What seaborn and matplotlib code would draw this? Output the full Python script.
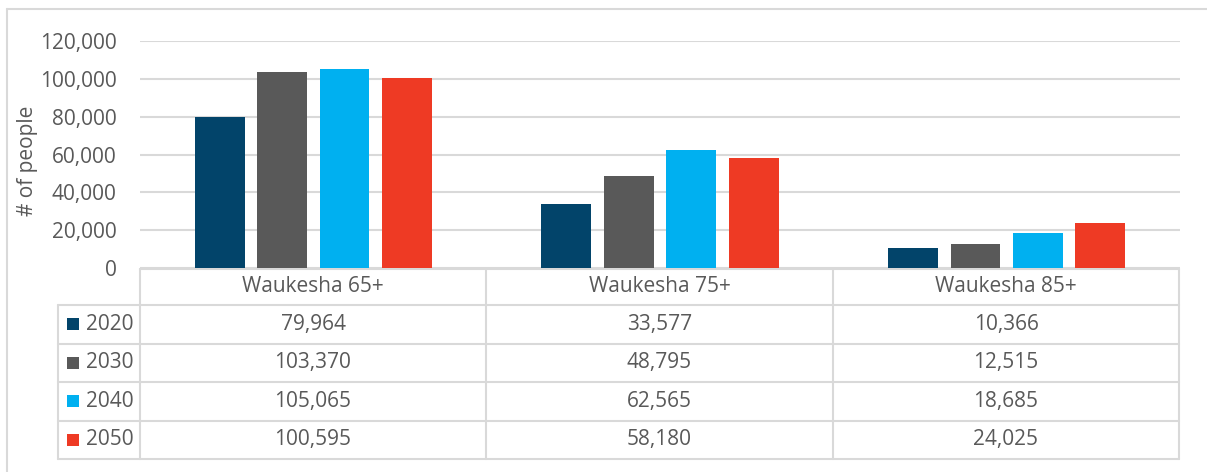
import matplotlib
matplotlib.use("Agg")
import matplotlib.pyplot as plt
import seaborn as sns
import pandas as pd
from matplotlib.patches import Rectangle
from matplotlib.lines import Line2D
from matplotlib.ticker import FuncFormatter

# ---- data ----
categories = ["Waukesha 65+", "Waukesha 75+", "Waukesha 85+"]
years = ["2020", "2030", "2040", "2050"]
v2020 = [79964, 33577, 10366]
v2030 = [103370, 48795, 12515]
v2040 = [105065, 62565, 18685]
v2050 = [100595, 58180, 24025]
colors = ["#02446A", "#595959", "#00B0F0", "#EE3A24"]
yticks = [0, 20000, 40000, 60000, 80000, 100000, 120000]

series = [v2020, v2030, v2040, v2050]
rows = []
for yr, vals in zip(years, series):
    for c, v in zip(categories, vals):
        rows.append({"cat": c, "year": yr, "value": v})
df = pd.DataFrame(rows)

sns.set_theme(style="white")
plt.rcParams["font.family"] = ["Open Sans", "DejaVu Sans"]
TXT = "#595959"
GRID = "#D9D9D9"

W, H = 1207, 472
fig = plt.figure(figsize=(W / 100, H / 100), dpi=100)

# overlay for table/border (pixel coords)
ov = fig.add_axes([0, 0, 1, 1], zorder=0)
ov.set_xlim(0, W)
ov.set_ylim(H, 0)
ov.axis("off")

# chart axes
x0, x1 = 140, 1180
ytop, ybot = 41, 268
ax = fig.add_axes([x0 / W, (H - ybot) / H, (x1 - x0) / W, (ybot - ytop) / H], zorder=1)
ax.patch.set_alpha(0)
sns.barplot(data=df, x="cat", y="value", hue="year", hue_order=years, order=categories,
            palette=colors, width=0.72, gap=0.2, ax=ax, legend=False,
            linewidth=0, saturation=1, errorbar=None)
ax.set_xlim(-0.5, len(categories) - 0.5)
ax.set_ylim(0, 120000)
ax.set_yticks(yticks)
ax.yaxis.set_major_formatter(FuncFormatter(lambda v, p: f"{int(v):,}"))
ax.tick_params(axis="y", length=0, pad=17, labelsize=15, labelcolor=TXT)
ax.set_xticks([])
ax.set_xlabel("")
ax.set_ylabel("# of people", fontsize=15, color=TXT, labelpad=4)
ax.yaxis.set_label_coords(-(x0 - 38) / (x1 - x0), 0.47)
for s in ax.spines.values():
    s.set_visible(False)
ax.grid(axis="y", color=GRID, linewidth=1.5)
ax.set_axisbelow(True)

# outer border
ov.add_line(Line2D([7, W], [9, 9], color=GRID, lw=1.5))
ov.add_line(Line2D([7, 7], [9, H], color=GRID, lw=1.5))

# data table
col_edges = [140, 486, 833, 1179]
lab_left = 58
hdr_top = 269
row_edges = [305, 343.5, 382, 420.5, 459]
lw = 1.5
ov.add_line(Line2D([col_edges[0], col_edges[-1]], [hdr_top, hdr_top], color=GRID, lw=lw))
for xe in col_edges:
    ov.add_line(Line2D([xe, xe], [hdr_top, row_edges[-1]], color=GRID, lw=lw))
for ye in row_edges:
    ov.add_line(Line2D([lab_left, col_edges[-1]], [ye, ye], color=GRID, lw=lw))
ov.add_line(Line2D([lab_left, lab_left], [row_edges[0], row_edges[-1]], color=GRID, lw=lw))

for i, c in enumerate(categories):
    cx = (col_edges[i] + col_edges[i + 1]) / 2
    ov.text(cx, (hdr_top + row_edges[0]) / 2, c, ha="center", va="center",
            fontsize=15, color=TXT)
for r, (yr, vals, col) in enumerate(zip(years, series, colors)):
    cy = (row_edges[r] + row_edges[r + 1]) / 2
    ov.add_patch(Rectangle((67, cy - 6), 12, 12, color=col, lw=0))
    ov.text(86, cy, yr, ha="left", va="center", fontsize=15, color=TXT)
    for i, v in enumerate(vals):
        cx = (col_edges[i] + col_edges[i + 1]) / 2
        ov.text(cx, cy, f"{v:,}", ha="center", va="center", fontsize=15, color=TXT)

fig.savefig("out.png", dpi=100)
